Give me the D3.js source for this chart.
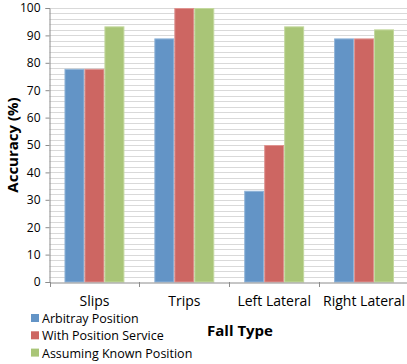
<!DOCTYPE html>
<html>
<head>
<meta charset="utf-8">
<script src="https://cdn.jsdelivr.net/npm/d3@7"></script>
<style>
  html, body { margin: 0; padding: 0; background: #fff; }
  svg { display: block; }
  text { font-family: "Open Sans", "Liberation Sans", sans-serif; fill: #000; }
</style>
</head>
<body>
<svg id="chart" width="407" height="364"></svg>
<script>
const categories = ["Slips", "Trips", "Left Lateral", "Right Lateral"];
const seriesNames = ["Arbitray Position", "With Position Service", "Assuming Known Position"];
const arbitrary = [77.8, 88.9, 33.3, 88.9];
const withService = [77.8, 100, 50, 88.9];
const knownPosition = [93.3, 100, 93.3, 92.2];
const yTicks = [0, 10, 20, 30, 40, 50, 60, 70, 80, 90, 100];
const colors = ["#6394c6", "#cd6662", "#a9c577"];
const borders = ["#8fb3d8", "#de9390", "#c3d89e"];

const seriesValues = [arbitrary, withService, knownPosition];

const svg = d3.select("#chart");
const plotLeft = 49.5, plotRight = 409, plotTop = 8, plotBottom = 282;

const x = d3.scaleBand().domain(categories).range([plotLeft, plotRight]).paddingInner(0).paddingOuter(0);
const xs = d3.scaleBand().domain(seriesNames).range([0, x.bandwidth()]).paddingInner(0).paddingOuter(0.75);
const y = d3.scaleLinear().domain([0, 100]).range([plotBottom, plotTop]);

// minor gridlines every 2 units
const gridVals = d3.range(2, 101, 2);
svg.append("g").selectAll("line").data(gridVals).join("line")
  .attr("x1", plotLeft).attr("x2", plotRight)
  .attr("y1", d => Math.round(y(d)) + 0.5).attr("y2", d => Math.round(y(d)) + 0.5)
  .attr("stroke", "#d9d9d9").attr("stroke-width", 1);

// bars
const groups = svg.append("g").selectAll("g").data(categories).join("g")
  .attr("transform", d => `translate(${x(d)},0)`);
groups.selectAll("rect")
  .data((c, i) => seriesNames.map((s, j) => ({ s, j, v: seriesValues[j][i] })))
  .join("rect")
  .attr("x", d => xs(d.s) + 0.5)
  .attr("width", xs.bandwidth() - 1)
  .attr("y", d => y(d.v) + 0.5)
  .attr("height", d => plotBottom - y(d.v) - 0.5)
  .attr("fill", d => colors[d.j])
  .attr("stroke", d => borders[d.j])
  .attr("stroke-width", 1);

// y axis
const yAxis = svg.append("g").attr("transform", `translate(${plotLeft},0)`)
  .call(d3.axisLeft(y).tickValues(yTicks).tickSize(4).tickPadding(5));
yAxis.select(".domain").attr("stroke", "#8c8c8c");
yAxis.selectAll(".tick line").attr("stroke", "#8c8c8c");
yAxis.selectAll(".tick text").attr("font-size", 12).attr("fill", "#000")
  .attr("font-family", "Open Sans, Liberation Sans, sans-serif");

// x axis
const xAxis = svg.append("g").attr("transform", `translate(0,${plotBottom + 0.5})`)
  .call(d3.axisBottom(x).tickSize(0).tickPadding(14));
xAxis.select(".domain").attr("stroke", "#8c8c8c");
xAxis.selectAll(".tick text").attr("font-size", 14).attr("fill", "#000")
  .attr("font-family", "Open Sans, Liberation Sans, sans-serif");
// category boundary ticks
svg.append("g").selectAll("line").data(categories).join("line")
  .attr("x1", d => Math.round(x(d)) + 0.5).attr("x2", d => Math.round(x(d)) + 0.5)
  .attr("y1", plotBottom).attr("y2", plotBottom + 5)
  .attr("stroke", "#8c8c8c");

// axis titles
svg.append("text")
  .attr("transform", `translate(18,${(plotTop + plotBottom) / 2}) rotate(-90)`)
  .attr("text-anchor", "middle")
  .attr("font-size", 15).attr("font-weight", "bold")
  .text("Accuracy (%)");
svg.append("text")
  .attr("x", 240).attr("y", 336)
  .attr("text-anchor", "middle")
  .attr("font-size", 15).attr("font-weight", "bold")
  .text("Fall Type");

// legend
const legend = svg.append("g").selectAll("g").data(seriesNames).join("g")
  .attr("transform", (d, i) => `translate(31,${314 + i * 17.3})`);
legend.append("rect").attr("width", 8).attr("height", 8)
  .attr("fill", (d, i) => colors[i]);
legend.append("text").attr("x", 11).attr("y", 9)
  .attr("font-size", 12.5).text(d => d);
</script>
</body>
</html>
